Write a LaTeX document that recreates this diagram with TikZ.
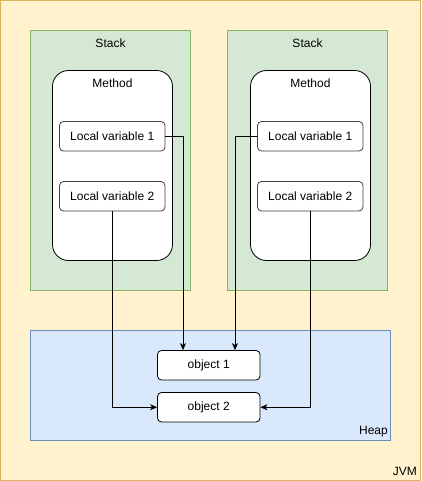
\documentclass[tikz,border=0pt]{standalone}
\usepackage{fontspec}
\setmainfont{Liberation Sans}
\usetikzlibrary{arrows.meta}
\definecolor{jvmfill}{HTML}{FFF2CC}
\definecolor{jvmline}{HTML}{D6B656}
\definecolor{stfill}{HTML}{D5E8D4}
\definecolor{stline}{HTML}{82B366}
\definecolor{hpfill}{HTML}{DAE8FC}
\definecolor{hpline}{HTML}{6C8EBF}
\tikzset{
  lbl/.style={font=\fontsize{12pt}{14pt}\selectfont, inner sep=0pt},
  varbox/.style={draw=black!75, fill=white, rounded corners=4pt, line width=0.8pt, minimum width=105.5pt, minimum height=29.5pt, inner sep=0pt, font=\fontsize{12pt}{14pt}\selectfont},
  objbox/.style={draw=black, fill=white, rounded corners=4pt, line width=0.8pt, minimum width=102.5pt, minimum height=29.5pt, inner sep=0pt, font=\fontsize{12pt}{14pt}\selectfont},
  conn/.style={draw=black, line width=0.8pt, -{Stealth[length=7pt,width=6pt,inset=2pt]}},
}
\begin{document}
\begin{tikzpicture}[x=1pt,y=-1pt]
\useasboundingbox (0,0) rectangle (421,481);
% JVM
\draw[fill=jvmfill, draw=jvmline, line width=1pt] (0.5,0.5) rectangle (420.5,480.5);
\node[lbl, anchor=south east] (jvm) at (417,476) {JVM};
% Stacks
\draw[fill=stfill, draw=stline, line width=0.8pt] (30.5,30.5) rectangle (190.5,290.5);
\node[lbl] (stack1) at (110.5,43.5) {Stack};
\draw[fill=stfill, draw=stline, line width=0.8pt] (227.5,30.5) rectangle (387.5,290.5);
\node[lbl] (stack2) at (307.5,43.5) {Stack};
% Methods
\draw[fill=white, draw=black, line width=0.8pt, rounded corners=16pt] (52.5,70.5) rectangle (172.5,260.5);
\node[lbl] (method1) at (112.5,83.5) {Method};
\draw[fill=white, draw=black, line width=0.8pt, rounded corners=16pt] (250.5,70.5) rectangle (370.5,260.5);
\node[lbl] (method2) at (310.5,83.5) {Method};
% Variables
\node[varbox] (l1) at (112.25,136.25) {Local variable 1};
\node[varbox] (l2) at (112.25,196.25) {Local variable 2};
\node[varbox] (r1) at (310.25,136.25) {Local variable 1};
\node[varbox] (r2) at (310.25,196.25) {Local variable 2};
% Heap
\draw[fill=hpfill, draw=hpline, line width=0.8pt] (30.5,330.5) rectangle (390.5,440.5);
\node[lbl, anchor=south east] (heap) at (388,437) {Heap};
\node[objbox] (o1) at (208.75,365.25) {object 1};
\node[objbox] (o2) at (208.75,407.25) {object 2};
% Connectors
\draw[conn] (l1.east) -| ([xshift=-25.75pt]o1.north);
\draw[conn] (r1.west) -| ([xshift=26.25pt]o1.north);
\draw[conn] (l2.south) |- (o2.west);
\draw[conn] (r2.south) |- (o2.east);
\end{tikzpicture}
\end{document}
